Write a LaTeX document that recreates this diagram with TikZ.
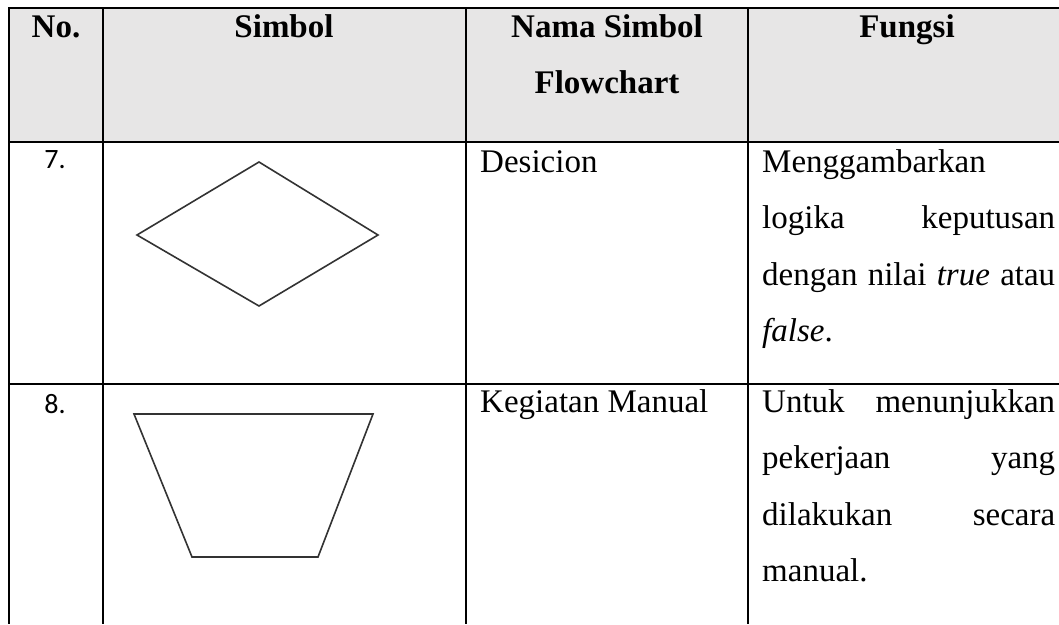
\documentclass[tikz,border=0pt]{standalone}
\usepackage{fontspec}
\setmainfont{Liberation Serif}
\newfontfamily\numfont{Carlito}
\definecolor{hdr}{HTML}{E7E6E6}
\begin{document}
\begin{tikzpicture}[x=1pt,y=-1pt,
  rule/.style={line width=2.2pt, black},
  shp/.style={line width=1.6pt, draw=black!80, line join=miter},
  txt/.style={inner sep=0pt, anchor=base west, font=\fontsize{33}{40}\selectfont},
  hd/.style={inner sep=0pt, anchor=base, font=\fontsize{33}{40}\selectfont\bfseries},
  num/.style={inner sep=0pt, anchor=base, font=\numfont\fontsize{28}{34}\selectfont}]
\useasboundingbox (0,0) rectangle (1059,624);
% header background
\fill[hdr] (9,8) rectangle (1059,142);
% grid
\draw[rule] (8,8) -- (1059,8);
\draw[rule] (8,142) -- (1059,142);
\draw[rule] (8,384) -- (1059,384);
\draw[rule] (9,7) -- (9,624);
\draw[rule] (103,7) -- (103,624);
\draw[rule] (466,7) -- (466,624);
\draw[rule] (748,7) -- (748,624);
% header
\node[hd] (hno) at (56,37) {No.};
\node[hd] (hsym) at (284,37) {Simbol};
\node[hd] (hname1) at (607,37) {Nama Simbol};
\node[hd] (hname2) at (607,93) {Flowchart};
\node[hd] (hfun) at (907,37) {Fungsi};
% row 7
\node[num] (n7) at (55,168) {7.};
\coordinate (dt) at (259,162);
\coordinate (dr) at (378,235);
\coordinate (db) at (259,306);
\coordinate (dl) at (137,235);
\draw[shp] (dt) -- (dr) -- (db) -- (dl) -- cycle;
\node[txt] (name7) at (480,172) {Desicion};
\node[txt] (f7a) at (762,172) {Menggambarkan};
\node[txt] (f7b) at (762,228) {\makebox[293pt][s]{logika keputusan}};
\node[txt] (f7c) at (762,285) {\makebox[293pt][s]{dengan nilai \textit{true} atau}};
\node[txt] (f7d) at (762,341) {\textit{false}.};
% row 8
\node[num] (n8) at (55,413) {8.};
\coordinate (tl) at (134,414);
\coordinate (tr) at (373,414);
\coordinate (br) at (318,557);
\coordinate (bl) at (192,557);
\draw[shp] (tl) -- (tr) -- (br) -- (bl) -- cycle;
\node[txt] (name8) at (480,412) {Kegiatan Manual};
\node[txt] (f8a) at (762,412) {\makebox[293pt][s]{Untuk menunjukkan}};
\node[txt] (f8b) at (762,468) {\makebox[293pt][s]{pekerjaan yang}};
\node[txt] (f8c) at (762,525) {\makebox[293pt][s]{dilakukan secara}};
\node[txt] (f8d) at (762,581) {manual.};
\end{tikzpicture}
\end{document}
